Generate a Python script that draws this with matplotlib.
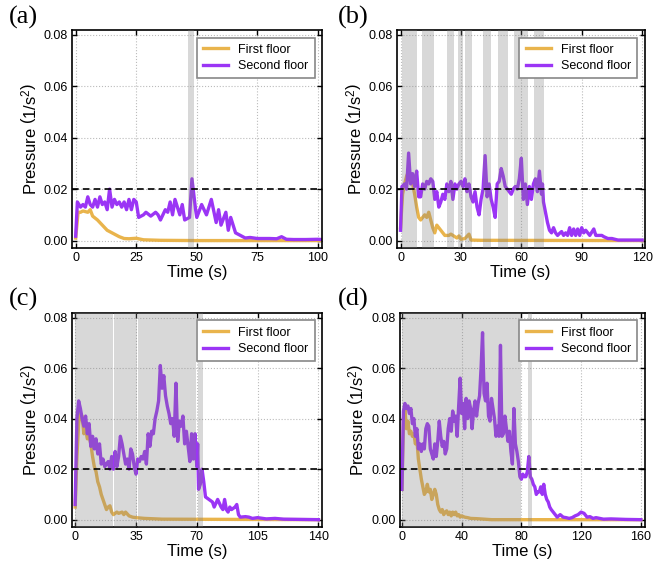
import matplotlib
matplotlib.use("Agg")
import matplotlib.pyplot as plt

plt.rcParams['font.family'] = ['Liberation Sans', 'DejaVu Sans']
plt.rcParams['mathtext.fontset'] = 'custom'
plt.rcParams['mathtext.rm'] = 'Liberation Sans'
plt.rcParams['mathtext.it'] = 'Liberation Sans:italic'

# ---- data ----

# (a)
a1_t = [0, 1, 2, 3, 5, 6, 7, 9, 11, 13, 15, 16, 18, 20, 22, 25, 28, 35, 50, 101.5]
a1_v = [0.001, 0.011, 0.011, 0.0115, 0.011, 0.012, 0.0095, 0.008, 0.006, 0.004, 0.003, 0.0025,
        0.0015, 0.0008, 0.0007, 0.0009, 0.0003, 0.0001, 0, 0]
a2_t = [0, 0.7, 2, 3, 4, 5, 6, 7, 8, 9, 10, 11, 12, 13, 14, 15, 16, 17, 18, 19, 20, 21, 22, 23, 24,
        25, 26, 28, 29, 31, 33, 34, 35, 37, 38, 39, 40, 41, 43, 44, 45, 47, 48, 49.5, 50, 52, 54,
        56, 58, 59, 60, 62, 63, 64, 66, 68, 70, 72, 75, 80, 83, 85, 87, 90, 95, 100, 101.5]
a2_v = [0.0017, 0.015, 0.013, 0.014, 0.013, 0.017, 0.014, 0.013, 0.016, 0.013, 0.017, 0.014,
        0.015, 0.012, 0.020, 0.013, 0.016, 0.014, 0.015, 0.013, 0.015, 0.012, 0.016, 0.012, 0.016,
        0.015, 0.009, 0.010, 0.011, 0.0095, 0.011, 0.010, 0.008, 0.012, 0.011, 0.015, 0.010, 0.016,
        0.010, 0.014, 0.008, 0.009, 0.024, 0.012, 0.009, 0.014, 0.010, 0.016, 0.007, 0.012, 0.006,
        0.011, 0.004, 0.009, 0.003, 0.002, 0.001, 0.0012, 0.0008, 0.0008, 0.0007, 0.0015, 0.0005,
        0.0004, 0.0004, 0.0005, 0.0004]
a_spans = [(46.5, 49)]

# (b)
b1_t = [0, 1, 2, 3, 4, 5, 6, 7, 8, 9, 10, 12, 13, 14, 15, 16, 17, 18, 20, 21, 22, 24, 25, 27, 28,
        29, 30, 32, 34, 35, 40, 120]
b1_v = [0.005, 0.018, 0.022, 0.025, 0.027, 0.025, 0.022, 0.018, 0.013, 0.009, 0.008, 0.010, 0.009,
        0.011, 0.008, 0.005, 0.003, 0.006, 0.004, 0.003, 0.002, 0.002, 0.0025, 0.0015, 0.001,
        0.0018, 0.0005, 0.0008, 0.0025, 0.0002, 0.0001, 0]
b2_t = [0, 0.7, 2, 3, 4, 5, 6, 7, 8, 9, 10, 11, 12, 13, 14, 15, 16, 17, 18, 19, 20, 21, 22, 23, 24,
        25, 26, 27, 28, 29, 30, 31, 32, 33, 34, 35, 36, 37, 38, 39, 40, 41, 42, 43, 44, 45, 46, 47,
        48, 49, 50, 51, 52, 53, 55, 56, 57, 58, 59, 60, 61, 62, 63, 64, 65, 66, 67, 68, 69, 70,
        70.5, 71, 72, 73, 74, 75, 76, 77, 78, 79, 80, 81, 82, 83, 84, 85, 86, 87, 88, 89, 90, 91,
        92, 93, 94, 96, 97, 98, 100, 101, 103, 105, 108, 120]
b2_v = [0.004, 0.021, 0.022, 0.020, 0.034, 0.022, 0.026, 0.021, 0.027, 0.017, 0.017, 0.022, 0.020,
        0.023, 0.022, 0.024, 0.023, 0.016, 0.019, 0.013, 0.015, 0.018, 0.016, 0.022, 0.019, 0.023,
        0.016, 0.022, 0.020, 0.022, 0.023, 0.021, 0.024, 0.019, 0.022, 0.017, 0.015, 0.019, 0.013,
        0.010, 0.016, 0.020, 0.033, 0.017, 0.022, 0.016, 0.013, 0.009, 0.022, 0.023, 0.028, 0.025,
        0.021, 0.020, 0.018, 0.020, 0.021, 0.020, 0.024, 0.032, 0.016, 0.022, 0.014, 0.021, 0.016,
        0.022, 0.024, 0.019, 0.027, 0.018, 0.022, 0.015, 0.011, 0.007, 0.004, 0.003, 0.005, 0.003,
        0.002, 0.0028, 0.0035, 0.002, 0.003, 0.002, 0.005, 0.002, 0.0045, 0.002, 0.0045, 0.002,
        0.005, 0.003, 0.004, 0.003, 0.002, 0.0045, 0.002, 0.002, 0.002, 0.0015, 0.0008, 0.0008,
        0.0002, 0.0002]
b_spans = [(0.5, 8.2), (10.7, 16.6), (23.2, 26.4), (28.7, 31.0), (32.2, 35.3), (41, 44.7),
           (48.6, 53.5), (56.3, 63.2), (66.5, 71.1)]

# (c)
c1_t = [0, 1, 2, 3, 4, 5, 6, 7, 8, 9, 10, 11, 12, 13, 14, 15, 16, 17, 18, 19, 20, 21, 22, 24, 25,
        27, 28, 29, 31, 33, 35, 40, 50, 140]
c1_v = [0.005, 0.025, 0.038, 0.042, 0.041, 0.034, 0.036, 0.032, 0.033, 0.030, 0.025, 0.021, 0.019,
        0.015, 0.013, 0.010, 0.008, 0.006, 0.004, 0.005, 0.0055, 0.003, 0.002, 0.003, 0.0025,
        0.003, 0.002, 0.003, 0.0015, 0.001, 0.0008, 0.0005, 0.0002, 0]
c2_t = [0, 1, 2, 3, 4, 5, 6, 7, 8, 9, 10, 11, 12, 13, 14, 15, 16, 17, 18, 19, 20, 21, 22, 23, 24,
        25, 26, 27, 28, 29, 30, 31, 32, 33, 34, 35, 36, 37, 38, 39, 40, 41, 42, 43, 44, 45, 46, 47,
        48, 49, 50, 51, 52, 53, 54, 55, 56, 57, 58, 59, 60, 61, 62, 63, 64, 65, 66, 67, 68, 69,
        70, 70.5, 71, 72, 73, 74, 75, 77, 79, 80, 82, 84, 85, 86, 87, 88, 89, 90, 92, 93, 94, 95,
        98, 100, 102, 105, 110, 115, 120, 130, 140]
c2_v = [0.006, 0.040, 0.047, 0.044, 0.040, 0.037, 0.041, 0.034, 0.038, 0.029, 0.033, 0.028, 0.032,
        0.026, 0.030, 0.022, 0.024, 0.021, 0.022, 0.023, 0.020, 0.025, 0.020, 0.027, 0.021, 0.025,
        0.033, 0.030, 0.026, 0.022, 0.024, 0.020, 0.028, 0.026, 0.021, 0.018, 0.024, 0.023, 0.025,
        0.024, 0.027, 0.022, 0.034, 0.029, 0.035, 0.034, 0.040, 0.043, 0.047, 0.061, 0.052, 0.057,
        0.049, 0.045, 0.042, 0.038, 0.040, 0.033, 0.054, 0.031, 0.039, 0.037, 0.041, 0.030, 0.035,
        0.029, 0.023, 0.034, 0.024, 0.034, 0.021, 0.030, 0.012, 0.014, 0.020, 0.015, 0.009, 0.008,
        0.007, 0.005, 0.008, 0.005, 0.004, 0.008, 0.004, 0.003, 0.005, 0.004, 0.005, 0.006, 0.002,
        0.001, 0.0012, 0.001, 0.0005, 0.0008, 0.0003, 0.0005, 0.0002, 0.0001, 0]
c_spans = [(0, 21.7), (22.3, 35.7), (36.3, 69.8), (70.4, 73.6)]

# (d)
d1_t = [0, 1, 2, 3, 4, 5, 6, 7, 8, 9, 10, 11, 12, 13, 14, 15, 16, 17, 18, 19, 20, 21, 22, 23, 24,
        25, 26, 27, 28, 29, 30, 31, 32, 33, 34, 35, 36, 37, 38, 39, 40, 42, 44, 46, 50, 55, 60, 160]
d1_v = [0.012, 0.040, 0.044, 0.036, 0.039, 0.034, 0.035, 0.033, 0.034, 0.030, 0.032, 0.024, 0.020,
        0.016, 0.013, 0.010, 0.011, 0.014, 0.011, 0.012, 0.008, 0.010, 0.012, 0.010, 0.006, 0.004,
        0.003, 0.004, 0.002, 0.003, 0.0035, 0.002, 0.003, 0.0015, 0.003, 0.002, 0.003, 0.0015,
        0.002, 0.001, 0.0015, 0.001, 0.0008, 0.0005, 0.0004, 0.0002, 0, 0]
d2_t = [0, 1, 2, 3, 4, 5, 6, 7, 8, 9, 10, 11, 12, 13, 14, 15, 16, 17, 18, 19, 20, 21, 22, 23, 24,
        25, 26, 27, 28, 29, 30, 31, 32, 33, 34, 35, 36, 37, 38, 39, 40, 41, 42, 43, 44, 45, 46, 47,
        48, 49, 50, 51, 52, 53, 54, 55, 56, 57, 58, 59, 60, 61, 62, 63, 64, 65, 66, 67, 68, 69,
        70, 71, 72, 73, 74, 75, 76, 77, 78, 79, 80, 81, 82, 83, 84, 85, 86, 87, 88, 89, 90, 91,
        92, 93, 94, 95, 96, 97, 98, 99, 100, 102, 104, 106, 108, 110, 112, 114, 116, 118, 120,
        122, 124, 126, 128, 130, 135, 140, 150, 160]
d2_v = [0.012, 0.043, 0.046, 0.044, 0.045, 0.042, 0.044, 0.038, 0.040, 0.033, 0.036, 0.028, 0.030,
        0.027, 0.030, 0.028, 0.036, 0.038, 0.037, 0.028, 0.026, 0.024, 0.030, 0.025, 0.031, 0.039,
        0.033, 0.029, 0.031, 0.026, 0.028, 0.036, 0.040, 0.035, 0.043, 0.039, 0.041, 0.033, 0.045,
        0.056, 0.042, 0.046, 0.036, 0.048, 0.040, 0.047, 0.044, 0.036, 0.043, 0.047, 0.041, 0.046,
        0.049, 0.060, 0.074, 0.050, 0.047, 0.054, 0.041, 0.039, 0.048, 0.044, 0.040, 0.033, 0.037,
        0.033, 0.069, 0.033, 0.034, 0.041, 0.036, 0.031, 0.035, 0.027, 0.022, 0.044, 0.030, 0.027,
        0.023, 0.017, 0.016, 0.018, 0.017, 0.017, 0.019, 0.025, 0.017, 0.016, 0.014, 0.013, 0.010,
        0.011, 0.011, 0.013, 0.010, 0.014, 0.010, 0.008, 0.007, 0.005, 0.004, 0.0025, 0.001, 0.002,
        0.001, 0.0008, 0.0005, 0.0008, 0.0015, 0.002, 0.003, 0.0025, 0.001, 0.0012, 0.0005, 0.0008,
        0.0002, 0.0003, 0.0001, 0]
d_spans = [(0, 79.5), (84.3, 87.4)]

panels = [
    ("(a)", a1_t, a1_v, a2_t, a2_v, a_spans, [0, 25, 50, 75, 100], (-1.5, 101.8)),
    ("(b)", b1_t, b1_v, b2_t, b2_v, b_spans, [0, 30, 60, 90, 120], (-1.8, 121.2)),
    ("(c)", c1_t, c1_v, c2_t, c2_v, c_spans, [0, 35, 70, 105, 140], (-1.8, 142.2)),
    ("(d)", d1_t, d1_v, d2_t, d2_v, d_spans, [0, 40, 80, 120, 160], (-1.6, 162.5)),
]

first_color = '#E9B44C'
second_color = '#9B35F5'
threshold = 0.02

fig = plt.figure(figsize=(6.55, 5.67), dpi=100)

# axes rectangles [left, bottom, width, height] and where the panel letters go
rects = [[0.110, 0.563, 0.382, 0.384], [0.606, 0.563, 0.378, 0.384],
         [0.110, 0.071, 0.382, 0.377], [0.610, 0.071, 0.374, 0.377]]
letter_pos = [(0.014, 0.990), (0.516, 0.990), (0.014, 0.492), (0.516, 0.492)]

for (name, t1, v1, t2, v2, spans, xticks, xlim), rect, lp in zip(panels, rects, letter_pos):
    ax = fig.add_axes(rect)
    ax.plot(t1, v1, color=first_color, lw=2.4, label='First floor', zorder=2)
    ax.plot(t2, v2, color=second_color, lw=2.4, label='Second floor', zorder=2)
    for s0, s1 in spans:
        ax.axvspan(s0, s1, color='#808080', alpha=0.3, lw=0, zorder=3)
    ax.axhline(threshold, color='black', lw=1.2, ls=(0, (4, 2.5)), zorder=4)

    ax.set_xlim(*xlim)
    ax.set_ylim(-0.0028, 0.0818)
    ax.set_xticks(xticks)
    ax.set_yticks([0, 0.02, 0.04, 0.06, 0.08])
    ax.set_yticklabels(['0.00', '0.02', '0.04', '0.06', '0.08'])
    ax.tick_params(direction='in', top=True, right=True, length=3.5, width=1,
                   labelsize=9, pad=3)
    ax.grid(True, color='#BBBBBB', ls=':', lw=0.8, zorder=0)
    ax.set_axisbelow(True)
    for sp in ax.spines.values():
        sp.set_linewidth(1.2)

    ax.set_xlabel('Time (s)', fontsize=12, labelpad=1)
    ax.set_ylabel(r'Pressure $\left(\mathrm{1/s^2}\right)$', fontsize=12, labelpad=3)

    leg = ax.legend(loc='upper right', fontsize=9, fancybox=False, framealpha=1,
                    edgecolor='#888888', handlelength=2.0, borderaxespad=0.6,
                    labelspacing=0.35, borderpad=0.5)
    leg.get_frame().set_linewidth(1.2)
    leg.set_zorder(10)

    fig.text(lp[0], lp[1], name, fontsize=19, family='Liberation Serif', va='top', ha='left')

fig.savefig('out.png', dpi=100)
